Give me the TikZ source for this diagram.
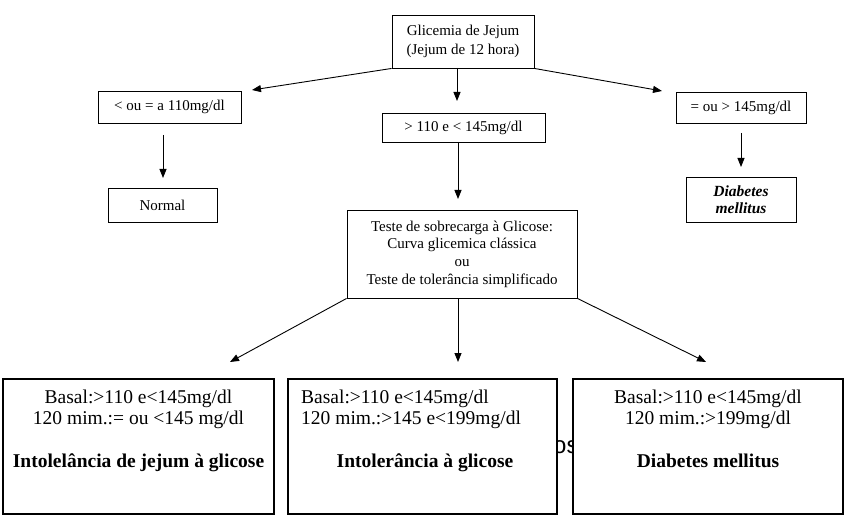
\documentclass[tikz,border=0pt]{standalone}
\usepackage{fontspec}
\setmainfont{Liberation Serif}
\newfontfamily\osfont{Liberation Sans}
\usetikzlibrary{arrows.meta}
\tikzset{
  box/.style={draw, line width=0.9pt, inner sep=0pt, align=center, fill=white},
  bigbox/.style={draw, line width=1.2pt, inner sep=0pt, fill=white},
  small/.style={font=\fontsize{15}{19}\selectfont},
  btext/.style={inner sep=0pt, anchor=base, font=\fontsize{19.5}{21}\selectfont},
  bbold/.style={btext, font=\fontsize{19.5}{21}\selectfont\bfseries},
  arr/.style={line width=0.9pt, -{Triangle[length=9pt,width=7pt]}},
}
\begin{document}
\begin{tikzpicture}[x=1pt,y=-1pt]
\useasboundingbox (0,0) rectangle (850,521);
% stray text partly hidden behind the boxes
\node[anchor=base west, inner sep=0pt, font=\osfont\fontsize{24}{24}\selectfont] (os) at (553,453) {os};
% top level
\node[box, small, minimum width=142pt, minimum height=53pt] (top) at (463,41.5) {Glicemia de Jejum\\(Jejum de 12 hora)};
\node[box, small, minimum width=143pt, minimum height=32pt] (L) at (169.5,107) {< ou = a 110mg/dl};
\node[box, small, minimum width=163pt, minimum height=29pt] (M) at (463.5,127.5) {> 110 e < 145mg/dl};
\node[box, small, minimum width=130pt, minimum height=31pt] (R) at (741,107.5) {= ou > 145mg/dl};
\node[box, small, minimum width=109pt, minimum height=34pt] (N) at (162.5,205) {Normal};
\node[box, font=\fontsize{15.5}{16.7}\selectfont\bfseries\itshape, minimum width=110pt, minimum height=45pt] (D) at (741,199.5) {Diabetes\\mellitus};
\node[box, font=\fontsize{15}{17.7}\selectfont, minimum width=230pt, minimum height=88pt] (T) at (462,254) {Teste de sobrecarga à Glicose:\\Curva glicemica clássica\\ou\\Teste de tolerância simplificado};
% bottom boxes
\node[bigbox, minimum width=271pt, minimum height=135pt] (B1) at (138.5,446.5) {};
\node[bigbox, minimum width=269pt, minimum height=135pt] (B2) at (422.5,446.5) {};
\node[bigbox, minimum width=270pt, minimum height=135pt] (B3) at (708,446.5) {};
% bottom texts
\node[btext] (b1a) at (138.5,403) {Basal:>110 e<145mg/dl};
\node[btext] (b1c) at (138.5,424) {120 mim.:= ou <145 mg/dl};
\node[bbold] (b1b) at (138.5,467.5) {Intolelância de jejum à glicose};
\node[btext, anchor=base west] (b2a) at (301,403) {Basal:>110 e<145mg/dl};
\node[btext, anchor=base west] (b2c) at (301,424) {120 mim.:>145 e<199mg/dl};
\node[bbold] (b2b) at (425,467) {Intolerância à glicose};
\node[btext] (b3a) at (708,403) {Basal:>110 e<145mg/dl};
\node[btext] (b3c) at (708,424) {120 mim.:>199mg/dl};
\node[bbold] (b3b) at (708,467) {Diabetes mellitus};
% arrow end points
\coordinate (eL) at (252,90);
\coordinate (eR) at (662,91);
\coordinate (sM) at (457,68);
\coordinate (eM) at (457,101);
\coordinate (sLd) at (163,135);
\coordinate (eLd) at (163,178);
\coordinate (sMd) at (458,142);
\coordinate (eMd) at (458,199);
\coordinate (sRd) at (741,133);
\coordinate (eRd) at (741,167);
\coordinate (sTm) at (458,298);
\coordinate (e1) at (230,362);
\coordinate (e2) at (458,362);
\coordinate (e3) at (706,362);
% arrows
\draw[arr] (top.south west) -- (eL);
\draw[arr] (sM) -- (eM);
\draw[arr] (top.south east) -- (eR);
\draw[arr] (sLd) -- (eLd);
\draw[arr] (sMd) -- (eMd);
\draw[arr] (sRd) -- (eRd);
\draw[arr] (T.south west) -- (e1);
\draw[arr] (sTm) -- (e2);
\draw[arr] (T.south east) -- (e3);
\end{tikzpicture}
\end{document}
